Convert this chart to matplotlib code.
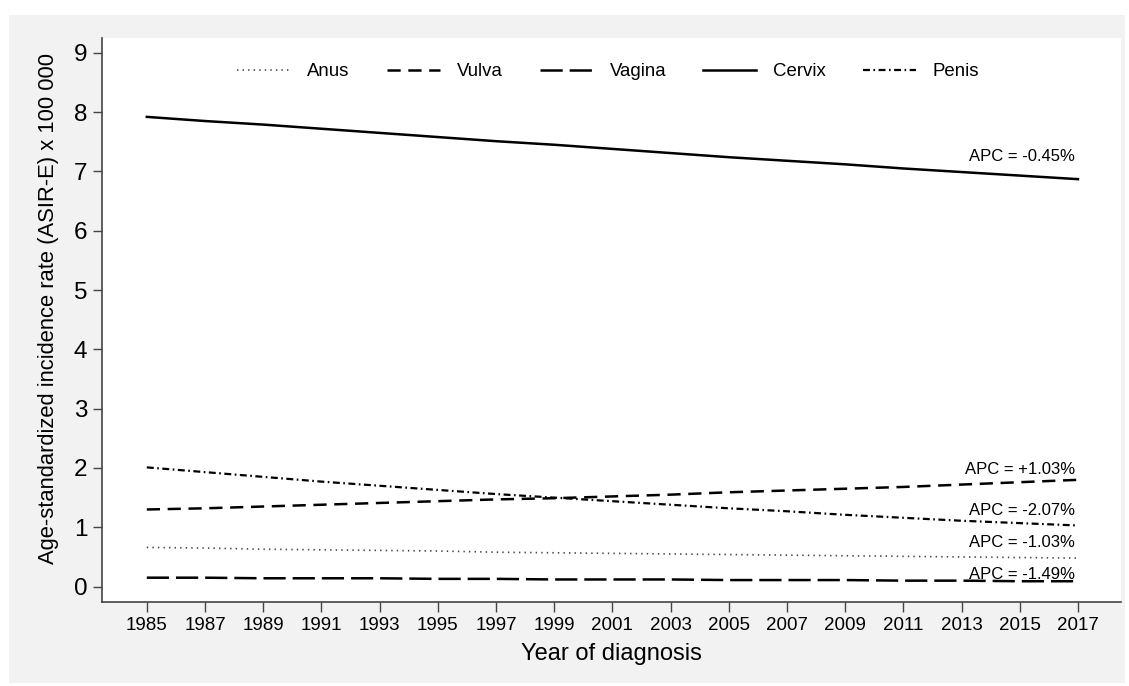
import matplotlib
matplotlib.use("Agg")
import matplotlib.pyplot as plt
from matplotlib.patches import Rectangle

plt.rcParams['font.family'] = ['Liberation Sans', 'DejaVu Sans']
plt.rcParams['lines.scale_dashes'] = False

years = list(range(1985, 2018, 2))
cervix = [7.92, 7.85, 7.79, 7.72, 7.65, 7.58, 7.51, 7.45, 7.38, 7.31, 7.24, 7.18, 7.12, 7.05, 6.99, 6.93, 6.87]
vulva = [1.30, 1.32, 1.35, 1.38, 1.41, 1.44, 1.47, 1.49, 1.52, 1.55, 1.59, 1.62, 1.65, 1.68, 1.72, 1.76, 1.80]
penis = [2.01, 1.93, 1.85, 1.77, 1.70, 1.63, 1.56, 1.50, 1.44, 1.38, 1.32, 1.27, 1.21, 1.16, 1.11, 1.07, 1.03]
anus = [0.66, 0.65, 0.63, 0.62, 0.61, 0.60, 0.58, 0.57, 0.56, 0.55, 0.54, 0.53, 0.52, 0.51, 0.50, 0.49, 0.48]
vagina = [0.15, 0.15, 0.14, 0.14, 0.14, 0.13, 0.13, 0.12, 0.12, 0.12, 0.11, 0.11, 0.11, 0.10, 0.10, 0.09, 0.09]

apc_labels = ["APC = -0.45%", "APC = +1.03%", "APC = -2.07%", "APC = -1.03%", "APC = -1.49%"]
apc_y = [7.26, 1.98, 1.29, 0.74, 0.21]

fig = plt.figure(figsize=(11.29, 6.86), dpi=100)
fig.patch.set_facecolor('white')
fig.patches.append(Rectangle((9/1129, 1-683/686), (1125-9)/1129, (683-15)/686,
                             transform=fig.transFigure, facecolor='#f2f2f2',
                             edgecolor='none', zorder=-10))
ax = fig.add_axes([102/1129, 1-602/686, 1019/1129, 564/686])
ax.set_facecolor('white')

ax.plot(years, anus, color='#444444', lw=1.2, dashes=(1.0, 3.0), label='Anus')
ax.plot(years, vulva, color='black', lw=1.8, dashes=(9.5, 5.5), label='Vulva')
ax.plot(years, vagina, color='black', lw=1.8, dashes=(16, 5), label='Vagina')
ax.plot(years, cervix, color='black', lw=1.8, label='Cervix')
ax.plot(years, penis, color='black', lw=1.6, dashes=(5, 2.5, 1.2, 2.5), label='Penis')

for lab, yv in zip(apc_labels, apc_y):
    ax.text(2016.9, yv, lab, ha='right', va='center', fontsize=12)

ax.set_xlim(1983.46, 2018.48)
ax.set_ylim(-0.26, 9.25)
ax.set_xticks(years)
ax.set_yticks(range(0, 10))
ax.tick_params(axis='y', labelsize=17.5, length=6.5, width=1, color='#444444', pad=4)
ax.tick_params(axis='x', labelsize=13.5, length=7, width=1, color='#444444', pad=4)
for s in ['top', 'right']:
    ax.spines[s].set_visible(False)
for s in ['left', 'bottom']:
    ax.spines[s].set_color('#444444')
    ax.spines[s].set_linewidth(1.2)

ax.set_xlabel('Year of diagnosis', fontsize=17, labelpad=6)
ax.set_ylabel('Age-standardized incidence rate (ASIR-E) x 100 000', fontsize=15.8)
ax.yaxis.set_label_coords(-0.042, 0.52)

leg = ax.legend(loc='center', bbox_to_anchor=(0.497, 0.94), ncol=5, frameon=False,
                fontsize=13.4, handlelength=2.85, handletextpad=0.9, columnspacing=2.0)

fig.savefig('out.png', dpi=100, facecolor=fig.get_facecolor())
